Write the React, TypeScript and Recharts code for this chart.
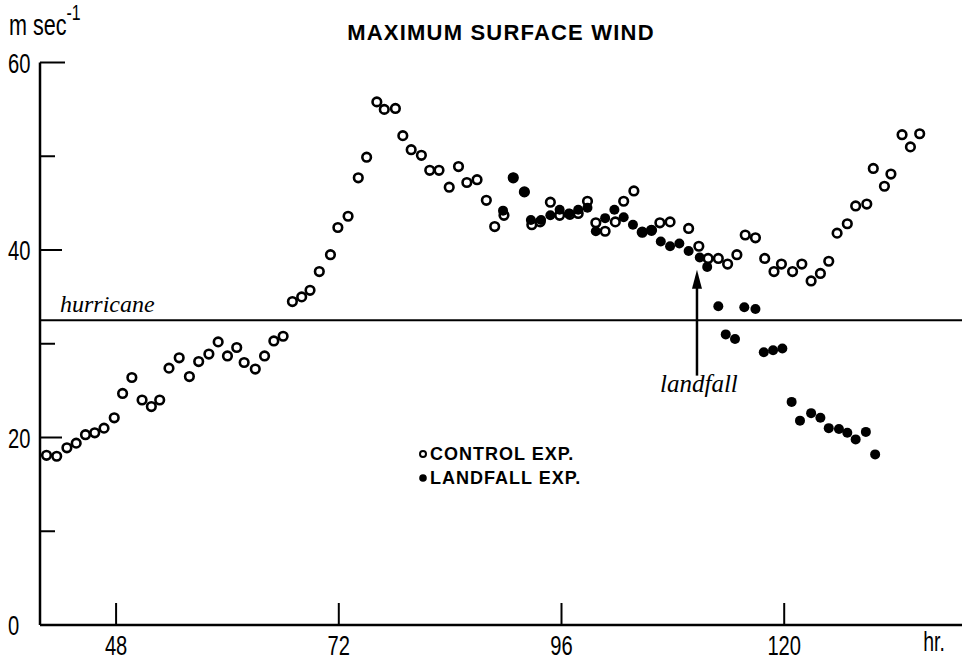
import React from 'react';
import { ScatterChart, Scatter, XAxis, YAxis, ReferenceLine, ReferenceDot, Legend } from 'recharts';

// hours / max wind (m/s)
const controlHours = [
  40.5, 41.6, 42.7, 43.7, 44.7, 45.7, 46.7, 47.8, 48.7, 49.7, 50.8, 51.8, 52.7, 53.7, 54.8, 55.9,
  56.9, 58.0, 59.0, 60.0, 61.0, 61.8, 63.0, 64.0, 65.0, 66.0, 67.0, 68.0, 68.9, 69.9, 71.1, 71.9,
  73.0, 74.1, 75.0, 76.1, 76.9, 78.1, 78.9, 79.8, 80.9, 81.8, 82.8, 83.9, 84.9, 85.8, 86.9, 87.9,
  88.8, 89.8, 90.8, 92.0, 92.8, 93.7, 94.8, 95.8, 96.9, 97.8, 98.8, 99.7, 100.7, 101.8, 102.7, 103.8,
  104.7, 105.7, 106.6, 107.7, 109.7, 110.8, 111.8, 112.9, 113.9, 114.9, 115.8, 116.9, 117.9, 118.9,
  119.7, 120.9, 121.9, 122.9, 123.9, 124.8, 125.7, 126.8, 127.7, 128.9, 129.6, 130.8, 131.5, 132.7,
  133.6, 134.6,
];
const controlSpeed = [
  18.1, 18.0, 18.9, 19.4, 20.3, 20.5, 21.0, 22.1, 24.7, 26.4, 24.0, 23.3, 24.0, 27.4, 28.5, 26.5,
  28.1, 28.9, 30.2, 28.7, 29.6, 28.0, 27.3, 28.7, 30.3, 30.8, 34.5, 35.0, 35.7, 37.7, 39.5, 42.4,
  43.6, 47.7, 49.9, 55.8, 55.0, 55.1, 52.2, 50.7, 50.1, 48.5, 48.5, 46.7, 48.9, 47.2, 47.5, 45.3,
  42.5, 43.7, 47.7, 46.2, 42.7, 43.0, 45.1, 43.7, 43.8, 43.9, 45.2, 42.9, 42.0, 43.0, 45.2, 46.3,
  41.9, 42.1, 42.9, 43.0, 42.3, 40.4, 39.1, 39.1, 38.5, 39.5, 41.6, 41.3, 39.1, 37.7,
  38.5, 37.7, 38.5, 36.7, 37.5, 38.8, 41.8, 42.8, 44.7, 44.9, 48.7, 46.8, 48.1, 52.3,
  51.0, 52.4,
];
const landfallHours = [
  89.7, 90.8, 92.0, 92.7, 93.8, 94.8, 95.8, 96.8, 97.8, 98.8, 99.7, 100.7, 101.7, 102.7, 103.7,
  104.7, 105.7, 106.7, 107.7, 108.7, 109.7, 110.9, 111.7, 112.9, 113.7, 114.7, 115.7, 116.9,
  117.8, 118.8, 119.8, 120.8, 121.7, 122.9, 123.9, 124.8, 125.9, 126.8, 127.7, 128.8, 129.8,
];
const landfallSpeed = [
  44.2, 47.7, 46.2, 43.2, 43.2, 43.7, 44.3, 43.9, 44.3, 44.5, 42.0, 43.4, 44.3, 43.5, 42.7,
  41.9, 42.1, 40.9, 40.4, 40.7, 39.9, 39.2, 38.2, 34.0, 31.0, 30.5, 33.9, 33.7,
  29.1, 29.3, 29.5, 23.8, 21.8, 22.6, 22.1, 21.0, 20.9, 20.5, 19.8, 20.6, 18.2,
];

const xTicks = [48, 72, 96, 120];
const yTicks = [0, 10, 20, 30, 40, 50, 60];
const yLabelled = [0, 20, 40, 60];
const hurricaneSpeed = 32.5;
const landfallHour = 110.6;

const control = controlHours.map((hr, i) => ({ hr, speed: controlSpeed[i] }));
const landfall = landfallHours.map((hr, i) => ({ hr, speed: landfallSpeed[i] }));

const SANS = "'Liberation Sans', Arial, sans-serif";
const SERIF = "'Liberation Serif', 'DejaVu Serif', serif";

// condensed-looking label: horizontal squeeze of a regular sans
const Narrow = ({ x, y, anchor = 'start', size = 28, children }: any) => (
  <text
    transform={`translate(${x},${y}) scale(0.72,1)`}
    textAnchor={anchor}
    fontSize={size}
    fontFamily={SANS}
    fill="#000"
  >
    {children}
  </text>
);

const XTick = (props: any) => {
  const { x, y, payload } = props;
  return (
    <g>
      <line x1={x} y1={y} x2={x} y2={y - 22} stroke="#000" strokeWidth={2} />
      <Narrow x={x} y={y + 30} anchor="middle">{payload.value}</Narrow>
    </g>
  );
};

const YTick = (props: any) => {
  const { x, y, payload } = props;
  const v = payload.value;
  const major = yLabelled.includes(v);
  return (
    <g>
      {v !== 0 && (
        <line x1={x} y1={y} x2={x + (v === 60 ? 25 : major ? 22 : 15)} y2={y} stroke="#000" strokeWidth={2} />
      )}
      {major && <Narrow x={x - 32} y={y + 10}>{v}</Narrow>}
    </g>
  );
};

const OpenDot = (p: any) => <circle cx={p.cx} cy={p.cy} r={4.3} fill="#fff" stroke="#000" strokeWidth={2.6} />;
const FilledDot = (p: any) => <circle cx={p.cx} cy={p.cy} r={5} fill="#000" />;
const ArrowHead = (p: any) => (
  <polygon points={`${p.cx},${p.cy} ${p.cx - 5},${p.cy + 19} ${p.cx + 5},${p.cy + 19}`} fill="#000" />
);

const LegendBox = () => (
  <div style={{ fontFamily: SANS, fontWeight: 'bold', fontSize: 18, letterSpacing: 1, color: '#000', lineHeight: '24px' }}>
    <div style={{ display: 'flex', alignItems: 'center' }}>
      <svg width={11} height={12} style={{ marginRight: 1 }}>
        <circle cx={5} cy={6} r={3} fill="#fff" stroke="#000" strokeWidth={2} />
      </svg>
      CONTROL EXP.
    </div>
    <div style={{ display: 'flex', alignItems: 'center' }}>
      <svg width={11} height={12} style={{ marginRight: 1 }}>
        <circle cx={5} cy={6} r={3.8} fill="#000" />
      </svg>
      LANDFALL EXP.
    </div>
  </div>
);

export default function App() {
  return (
    <div style={{ position: 'absolute', left: 0, top: 0, width: 962, height: 660, background: '#fff' }}>
      <ScatterChart width={962} height={660} margin={{ top: 62.5, right: 0, left: 0, bottom: 0 }}>
        <XAxis
          type="number"
          dataKey="hr"
          domain={[39.8, 139.16]}
          ticks={xTicks}
          allowDataOverflow
          height={35}
          tickSize={0}
          tickMargin={0}
          tick={<XTick />}
          axisLine={{ stroke: '#000', strokeWidth: 2.5 }}
          tickLine={false}
        />
        <YAxis
          type="number"
          dataKey="speed"
          domain={[0, 60]}
          ticks={yTicks}
          allowDataOverflow
          width={40}
          tickSize={0}
          tickMargin={0}
          tick={<YTick />}
          axisLine={{ stroke: '#000', strokeWidth: 2.5 }}
          tickLine={false}
        />
        <ReferenceLine y={hurricaneSpeed} stroke="#000" strokeWidth={2} />
        <ReferenceLine
          segment={[{ x: landfallHour, y: 26.6 }, { x: landfallHour, y: 36.5 }]}
          stroke="#000"
          strokeWidth={2.5}
        />
        <ReferenceDot x={landfallHour} y={37.9} r={0} shape={<ArrowHead />} />
        <Scatter name="CONTROL EXP." data={control} shape={<OpenDot />} isAnimationActive={false} />
        <Scatter name="LANDFALL EXP." data={landfall} shape={<FilledDot />} isAnimationActive={false} />
        <Legend
          layout="vertical"
          align="center"
          verticalAlign="middle"
          wrapperStyle={{ left: 418, top: 442, width: 220 }}
          content={<LegendBox />}
        />
      </ScatterChart>
      <svg width={962} height={660} style={{ position: 'absolute', left: 0, top: 0, pointerEvents: 'none' }}>
        <Narrow x={9} y={35} size={30}>
          m sec<tspan dy={-15} fontSize={22}>-1</tspan>
        </Narrow>
        <text x={501} y={40} textAnchor="middle" fontSize={22} fontWeight="bold" letterSpacing={1.2}
          fontFamily={SANS} fill="#000">
          MAXIMUM SURFACE WIND
        </text>
        <text x={60} y={312} fontSize={24} fontStyle="italic" fontFamily={SERIF} fill="#000">hurricane</text>
        <text x={660} y={392} fontSize={25} fontStyle="italic" fontFamily={SERIF} fill="#000">landfall</text>
        <Narrow x={934} y={651} anchor="middle" size={27}>hr.</Narrow>
      </svg>
    </div>
  );
}
